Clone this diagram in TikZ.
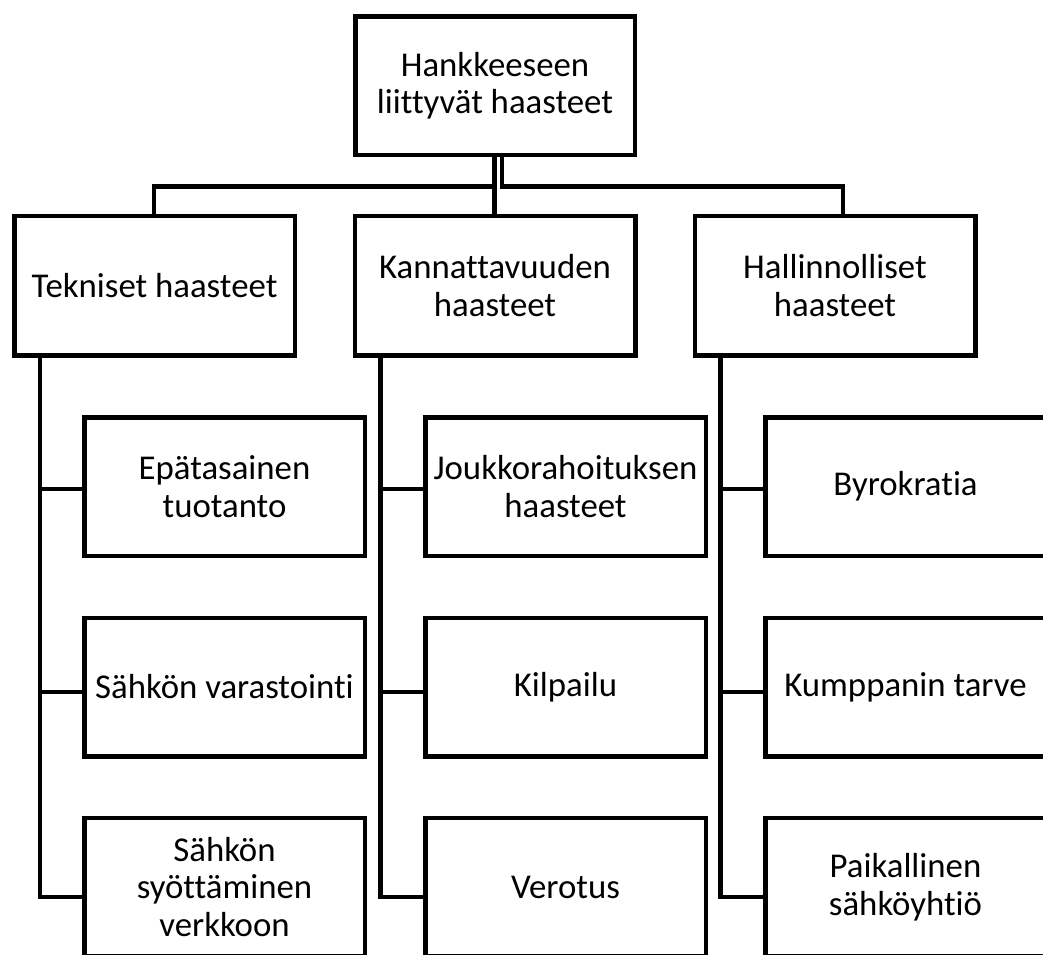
\documentclass[tikz,border=0pt]{standalone}
\usepackage{fontspec}
\setmainfont[Ligatures={NoCommon,NoContextual,NoRare},Contextuals={NoAlternate}]{Carlito}
\begin{document}
\begin{tikzpicture}[x=1pt,y=-1pt,
  box/.style={draw=black,line width=4.5pt,fill=white,minimum width=280.5pt,minimum height=138.5pt,inner sep=0pt,align=center,font=\fontsize{34.8}{37.5}\selectfont},
  conn/.style={draw=black,line width=4.5pt}]
\useasboundingbox (0,0) rectangle (1043,954);
% top
\node[box,minimum width=279.5pt] (top) at (495,85.5) {Hankkeeseen\\liittyvät haasteet};
% level 1
\node[box,minimum height=139.5pt] (l1a) at (154.5,285.5) {Tekniset haasteet};
\node[box,minimum height=139.5pt] (l1b) at (495,285.5) {Kannattavuuden\\haasteet};
\node[box,minimum height=139.5pt] (l1c) at (835,285.5) {Hallinnolliset\\haasteet};
% children
\node[box] (c11) at (224.5,486.5) {Epätasainen\\tuotanto};
\node[box] (c12) at (224.5,687) {Sähkön varastointi};
\node[box] (c13) at (224.5,887) {Sähkön\\syöttäminen\\verkkoon};
\node[box] (c21) at (565.5,486.5) {Joukkorahoituksen\\haasteet};
\node[box] (c22) at (565.5,687) {Kilpailu};
\node[box] (c23) at (565.5,887) {Verotus};
\node[box] (c31) at (905.5,486.5) {Byrokratia};
\node[box] (c32) at (905.5,687) {Kumppanin tarve};
\node[box] (c33) at (905.5,887) {Paikallinen\\sähköyhtiö};
% bar
\coordinate (bar) at (495,186.5);
\draw[conn] ([xshift=-0.5pt]top.south) -- ([xshift=-0.5pt]top.south |- bar) -| ([xshift=-0.5pt]l1a.north);
\draw[conn] ([xshift=7pt]top.south) -- ([xshift=7pt]top.south |- bar) -| ([xshift=8pt]l1c.north);
\draw[conn] ([xshift=-0.5pt]top.south |- bar) -- ([xshift=-0.5pt]l1b.north);
% child connectors
\foreach \p/\c in {l1a/c1,l1b/c2,l1c/c3}{
  \draw[conn] ([xshift=27.75pt]\p.south west) |- ([yshift=-2.5pt]\c1.west);
  \draw[conn] ([xshift=27.75pt]\p.south west) |- ([yshift=-5pt]\c2.west);
  \draw[conn] ([xshift=27.75pt]\p.south west) |- ([yshift=-10pt]\c3.west);
}
\end{tikzpicture}
\end{document}
